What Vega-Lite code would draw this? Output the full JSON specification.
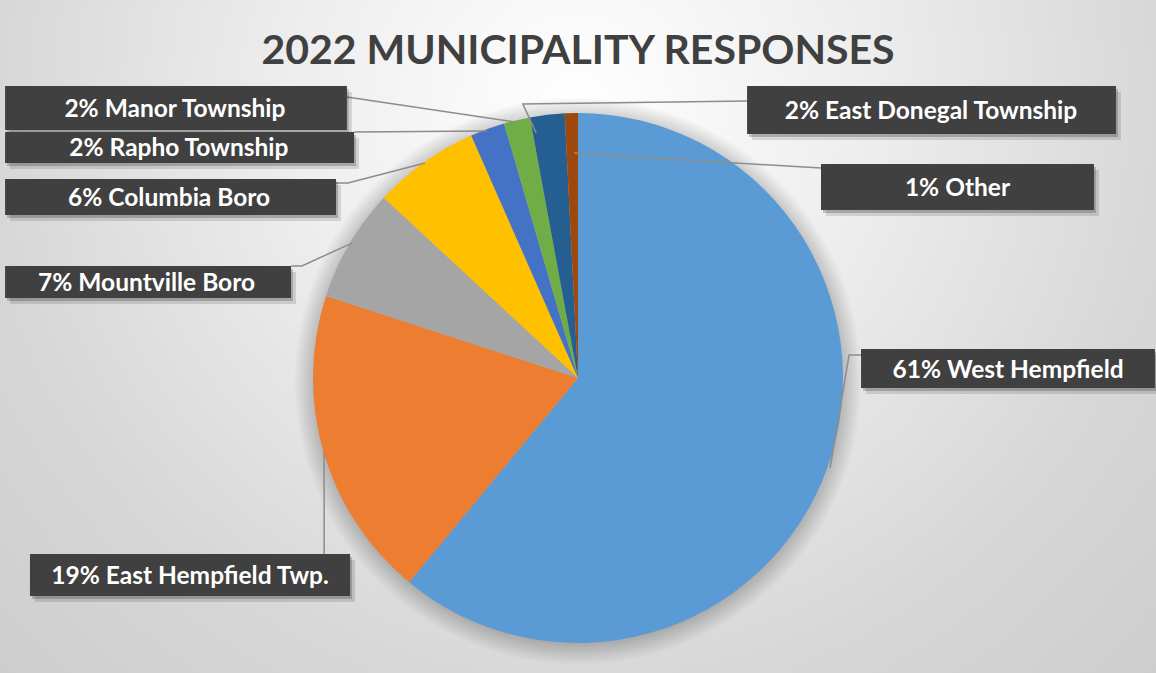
{
  "$schema": "https://vega.github.io/schema/vega-lite/v6.json",
  "width": 1156,
  "height": 673,
  "autosize": {"type": "none"},
  "padding": 0,
  "background": "#d9d9d9",
  "config": {"view": {"stroke": null}, "font": "Lato"},
  "title": {
    "text": "2022 MUNICIPALITY RESPONSES",
    "font": "Lato",
    "fontSize": 41,
    "fontWeight": "bold",
    "color": "#404040",
    "anchor": "middle",
    "frame": "group",
    "orient": "top",
    "baseline": "alphabetic",
    "offset": -41,
    "dy": 64
  },
  "datasets": {
    "slices": [
      {"municipality": "West Hempfield", "share": 61.0, "rank": 1},
      {"municipality": "East Hempfield Twp.", "share": 19.0, "rank": 2},
      {"municipality": "Mountville Boro", "share": 6.9, "rank": 3},
      {"municipality": "Columbia Boro", "share": 6.5, "rank": 4},
      {"municipality": "Rapho Township", "share": 2.1, "rank": 5},
      {"municipality": "Manor Township", "share": 1.6, "rank": 6},
      {"municipality": "East Donegal Township", "share": 2.1, "rank": 7},
      {"municipality": "Other", "share": 0.8, "rank": 8}
    ],
    "labels": [
      {"municipality": "Manor Township", "label": "2% Manor Township", "u1": -2.162, "u2": -0.872, "v1": 1.102, "v2": 0.936, "tu": -1.521, "tv": 1.012},
      {"municipality": "Rapho Township", "label": "2% Rapho Township", "u1": -2.162, "u2": -0.845, "v1": 0.928, "v2": 0.811, "tu": -1.506, "tv": 0.863},
      {"municipality": "Columbia Boro", "label": "6% Columbia Boro", "u1": -2.162, "u2": -0.913, "v1": 0.751, "v2": 0.615, "tu": -1.543, "tv": 0.676},
      {"municipality": "Mountville Boro", "label": "7% Mountville Boro", "u1": -2.162, "u2": -1.083, "v1": 0.423, "v2": 0.302, "tu": -1.628, "tv": 0.355},
      {"municipality": "East Hempfield Twp.", "label": "19% East Hempfield Twp.", "u1": -2.068, "u2": -0.860, "v1": -0.664, "v2": -0.823, "tu": -1.464, "tv": -0.750},
      {"municipality": "East Donegal Township", "label": "2% East Donegal Township", "u1": 0.638, "u2": 2.030, "v1": 1.102, "v2": 0.921, "tu": 1.332, "tv": 1.004},
      {"municipality": "Other", "label": "1% Other", "u1": 0.917, "u2": 1.947, "v1": 0.808, "v2": 0.634, "tu": 1.432, "tv": 0.714},
      {"municipality": "West Hempfield", "label": "61% West Hempfield", "u1": 1.068, "u2": 2.177, "v1": 0.109, "v2": -0.038, "tu": 1.623, "tv": 0.027}
    ],
    "leaders": [
      {"municipality": "Manor Township", "seq": 1, "u": -0.872, "v": 1.060},
      {"municipality": "Manor Township", "seq": 2, "u": -0.238, "v": 0.966},
      {"municipality": "Rapho Township", "seq": 1, "u": -0.845, "v": 0.928},
      {"municipality": "Rapho Township", "seq": 2, "u": -0.343, "v": 0.932},
      {"municipality": "Columbia Boro", "seq": 1, "u": -0.913, "v": 0.736},
      {"municipality": "Columbia Boro", "seq": 2, "u": -0.868, "v": 0.736},
      {"municipality": "Columbia Boro", "seq": 3, "u": -0.577, "v": 0.811},
      {"municipality": "Mountville Boro", "seq": 1, "u": -1.083, "v": 0.423},
      {"municipality": "Mountville Boro", "seq": 2, "u": -1.042, "v": 0.423},
      {"municipality": "Mountville Boro", "seq": 3, "u": -0.853, "v": 0.509},
      {"municipality": "East Donegal Township", "seq": 1, "u": 0.638, "v": 1.045},
      {"municipality": "East Donegal Township", "seq": 2, "u": -0.208, "v": 1.034},
      {"municipality": "East Donegal Township", "seq": 3, "u": -0.158, "v": 0.925},
      {"municipality": "Other", "seq": 1, "u": 0.917, "v": 0.792},
      {"municipality": "Other", "seq": 2, "u": -0.015, "v": 0.849},
      {"municipality": "West Hempfield", "seq": 1, "u": 1.068, "v": 0.087},
      {"municipality": "West Hempfield", "seq": 2, "u": 1.023, "v": 0.087},
      {"municipality": "West Hempfield", "seq": 3, "u": 0.951, "v": -0.340},
      {"municipality": "East Hempfield Twp.", "seq": 1, "u": -0.958, "v": -0.664},
      {"municipality": "East Hempfield Twp.", "seq": 2, "u": -0.958, "v": -0.279}
    ],
    "canvas": [{"part": "background"}]
  },
  "layer": [
    {
      "data": {"name": "canvas"},
      "mark": {
        "type": "rect",
        "fill": {
          "gradient": "radial",
          "x1": 0.5, "y1": 0.3, "r1": 0,
          "x2": 0.5, "y2": 0.3, "r2": 0.85,
          "stops": [
            {"offset": 0, "color": "#ffffff"},
            {"offset": 0.3, "color": "#ededed"},
            {"offset": 0.6, "color": "#d7d7d7"},
            {"offset": 1, "color": "#c6c6c6"}
          ]
        }
      },
      "encoding": {
        "x": {"datum": -2.1811, "type": "quantitative", "scale": {"domain": [-2.1811, 2.1811], "nice": false, "zero": false}, "axis": null},
        "x2": {"datum": 2.1811},
        "y": {"datum": -1.1132, "type": "quantitative", "scale": {"domain": [-1.1132, 1.4264], "nice": false, "zero": false}, "axis": null},
        "y2": {"datum": 1.4264}
      }
    },
    {
      "data": {"name": "canvas"},
      "mark": {
        "type": "arc",
        "theta": 0,
        "theta2": 6.2832,
        "outerRadius": 284,
        "yOffset": 3,
        "fill": {
          "gradient": "radial",
          "x1": 0.5, "y1": 0.5, "r1": 0.452,
          "x2": 0.5, "y2": 0.5, "r2": 0.5,
          "stops": [
            {"offset": 0, "color": "rgba(0,0,0,0.28)"},
            {"offset": 1, "color": "rgba(0,0,0,0)"}
          ]
        }
      },
      "encoding": {
        "x": {"datum": 0, "type": "quantitative", "scale": {"domain": [-2.1811, 2.1811], "nice": false, "zero": false}, "axis": null},
        "y": {"datum": 0, "type": "quantitative", "scale": {"domain": [-1.1132, 1.4264], "nice": false, "zero": false}, "axis": null}
      }
    },
    {
      "data": {"name": "slices"},
      "mark": {"type": "arc", "outerRadius": 265},
      "encoding": {
        "theta": {"field": "share", "type": "quantitative", "stack": true},
        "order": {"field": "rank", "type": "quantitative"},
        "color": {
          "field": "municipality",
          "type": "nominal",
          "legend": null,
          "scale": {
            "domain": ["West Hempfield", "East Hempfield Twp.", "Mountville Boro", "Columbia Boro", "Rapho Township", "Manor Township", "East Donegal Township", "Other"],
            "range": ["#5B9BD5", "#ED7D31", "#A5A5A5", "#FFC000", "#4472C4", "#70AD47", "#255E91", "#9E480E"]
          }
        },
        "x": {"datum": 0, "type": "quantitative", "scale": {"domain": [-2.1811, 2.1811], "nice": false, "zero": false}, "axis": null},
        "y": {"datum": 0, "type": "quantitative", "scale": {"domain": [-1.1132, 1.4264], "nice": false, "zero": false}, "axis": null}
      }
    },
    {
      "data": {"name": "leaders"},
      "mark": {"type": "line", "stroke": "#8c8c8c", "strokeWidth": 1.5},
      "encoding": {
        "x": {"field": "u", "type": "quantitative", "scale": {"domain": [-2.1811, 2.1811], "nice": false, "zero": false}, "axis": null},
        "y": {"field": "v", "type": "quantitative", "scale": {"domain": [-1.1132, 1.4264], "nice": false, "zero": false}, "axis": null},
        "detail": {"field": "municipality", "type": "nominal"},
        "order": {"field": "seq", "type": "quantitative"}
      }
    },
    {
      "data": {"name": "labels"},
      "mark": {"type": "rect", "fill": "#000000", "opacity": 0.12, "xOffset": 5, "yOffset": 6, "x2Offset": 5, "y2Offset": 6},
      "encoding": {
        "x": {"field": "u1", "type": "quantitative", "scale": {"domain": [-2.1811, 2.1811], "nice": false, "zero": false}, "axis": null},
        "x2": {"field": "u2"},
        "y": {"field": "v1", "type": "quantitative", "scale": {"domain": [-1.1132, 1.4264], "nice": false, "zero": false}, "axis": null},
        "y2": {"field": "v2"}
      }
    },
    {
      "data": {"name": "labels"},
      "mark": {"type": "rect", "fill": "#000000", "opacity": 0.2, "xOffset": 2, "yOffset": 3, "x2Offset": 2, "y2Offset": 3},
      "encoding": {
        "x": {"field": "u1", "type": "quantitative", "scale": {"domain": [-2.1811, 2.1811], "nice": false, "zero": false}, "axis": null},
        "x2": {"field": "u2"},
        "y": {"field": "v1", "type": "quantitative", "scale": {"domain": [-1.1132, 1.4264], "nice": false, "zero": false}, "axis": null},
        "y2": {"field": "v2"}
      }
    },
    {
      "data": {"name": "labels"},
      "mark": {"type": "rect", "fill": "#404040"},
      "encoding": {
        "x": {"field": "u1", "type": "quantitative", "scale": {"domain": [-2.1811, 2.1811], "nice": false, "zero": false}, "axis": null},
        "x2": {"field": "u2"},
        "y": {"field": "v1", "type": "quantitative", "scale": {"domain": [-1.1132, 1.4264], "nice": false, "zero": false}, "axis": null},
        "y2": {"field": "v2"}
      }
    },
    {
      "data": {"name": "labels"},
      "mark": {"type": "text", "font": "Lato", "fontSize": 24.5, "fontWeight": "bold", "color": "#ffffff", "align": "center", "baseline": "middle"},
      "encoding": {
        "x": {"field": "tu", "type": "quantitative", "scale": {"domain": [-2.1811, 2.1811], "nice": false, "zero": false}, "axis": null},
        "y": {"field": "tv", "type": "quantitative", "scale": {"domain": [-1.1132, 1.4264], "nice": false, "zero": false}, "axis": null},
        "text": {"field": "label", "type": "nominal"}
      }
    }
  ]
}
